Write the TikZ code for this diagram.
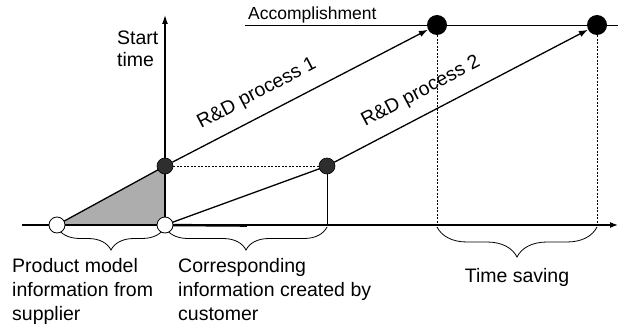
\documentclass[tikz,border=0pt]{standalone}
\usepackage{fontspec}
\setmainfont{Liberation Sans}
\usetikzlibrary{arrows.meta,decorations.pathreplacing}
\pgfdeclarelayer{background}
\pgfsetlayers{background,main}
\begin{document}
\begin{tikzpicture}[x=1pt,y=-1pt,
  lbl/.style={font=\fontsize{19.5}{24}\selectfont, inner sep=0pt},
  axisline/.style={line width=1.3pt},
  openpt/.style={circle, draw, line width=0.8pt, fill=white, minimum size=16pt, inner sep=0pt},
  shadedpt/.style={circle, draw, line width=0.6pt, fill=black!82, minimum size=16pt, inner sep=0pt},
  goalpt/.style={circle, fill=black, minimum size=20pt, inner sep=0pt},
  dotline/.style={line width=0.9pt, dash pattern=on 2pt off 1.5pt},
  proc/.style={line width=1.3pt, -{Latex[length=9pt,width=6.5pt]}},
  bracedec/.style={decorate, decoration={brace, mirror, amplitude=#1}, line width=0.8pt}
]
\useasboundingbox (0,0) rectangle (618,326);

% points
\node[openpt] (o1) at (57,225) {};
\node[openpt] (o2) at (165,225) {};
\node[shadedpt] (s1) at (165,166) {};
\node[shadedpt] (s2) at (327,166) {};
\node[goalpt] (g1) at (437,25) {};
\node[goalpt] (g2) at (597,25) {};
\coordinate (xstart) at (22,225);
\coordinate (xend) at (618,225);
\coordinate (ytop) at (165,15);
\coordinate (accstart) at (245,25);
\coordinate (accend) at (618,25);
\coordinate (thickend) at (247,225.6);
\coordinate (b1a) at (57,227);
\coordinate (b1b) at (165,227);
\coordinate (b2a) at (165,227);
\coordinate (b2b) at (327,227);
\coordinate (b3a) at (437,227);
\coordinate (b3b) at (597,227);

\begin{pgfonlayer}{background}
  % shaded triangle
  \fill[black!32] (o1.center) -- (s1.center) -- (o2.center) -- cycle;
  % axes
  \draw[axisline, -{Latex[length=8pt,width=6pt]}] (xstart) -- (xend);
  \draw[axisline, -{Latex[length=9pt,width=6pt]}] (o2.center) -- (ytop);
  \draw[line width=2.4pt] (o2.center) -- (thickend);
  % accomplishment line
  \draw[line width=0.8pt] (accstart) -- (accend);
  % triangle edges
  \draw[line width=1.3pt] (o1.center) -- (s1.center);
  % line to s2 and vertical
  \draw[line width=1.3pt] (o2.center) -- (s2.center);
  \draw[line width=1pt] (s2.center) -- (s2 |- o2);
  % dotted lines
  \draw[dotline] (s1) -- (s2);
  \draw[dotline] (g1) -- (g1 |- o2);
  \draw[dotline] (g2) -- (g2 |- o2);
  % processes
  \draw[proc] (s1) -- (g1);
  \draw[proc] (s2) -- (g2);
  % braces
  \draw[bracedec=23] (b1a) -- (b1b);
  \draw[bracedec=23] (b2a) -- (b2b);
  \draw[bracedec=30] (b3a) -- (b3b);
\end{pgfonlayer}

% labels
\node[lbl, align=left, anchor=north west, font=\fontsize{19.5}{22}\selectfont] (st) at (117,31) {Start\\time};
\node[lbl, anchor=base west, font=\fontsize{17.5}{21}\selectfont] (acc) at (248,20) {Accomplishment};
\node[lbl, rotate=27.6] (p1) at (257,94) {R\&D process 1};
\node[lbl, rotate=27.9] (p2) at (421,92) {R\&D process 2};
\node[lbl, align=left, anchor=north west] (prod) at (12,258) {Product model\\information from\\supplier};
\node[lbl, align=left, anchor=north west] (corr) at (178,258) {Corresponding\\information created by\\customer};
\node[lbl, anchor=base] (ts) at (517,282) {Time saving};
\end{tikzpicture}
\end{document}
